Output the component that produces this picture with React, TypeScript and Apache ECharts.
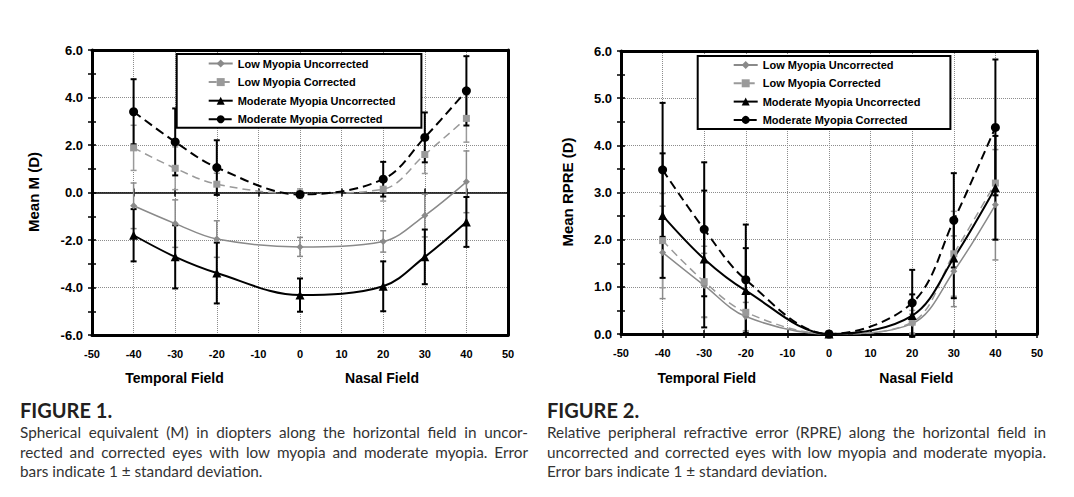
import React, { useEffect, useRef } from "react";
import * as echarts from "echarts";

// ---------- data ----------
const fieldAngles = [-40, -30, -20, 0, 20, 30, 40];
const seriesNames = [
  "Low Myopia Uncorrected",
  "Low Myopia Corrected",
  "Moderate Myopia Uncorrected",
  "Moderate Myopia Corrected",
];

// Figure 1: Mean M (D)
const fig1LowUncorrected = [-0.56, -1.31, -1.96, -2.29, -2.06, -0.97, 0.45];
const fig1LowCorrected = [1.88, 1.02, 0.35, -0.05, 0.14, 1.6, 3.12];
const fig1ModUncorrected = [-1.8, -2.71, -3.39, -4.32, -3.95, -2.71, -1.24];
const fig1ModCorrected = [3.4, 2.13, 1.05, -0.08, 0.56, 2.32, 4.28];
const fig1LowUncorrectedSD = [0.96, 1.0, 0.77, 0.4, 0.45, 0.9, 1.3];
const fig1LowCorrectedSD = [0.95, 0.9, 0.46, 0.2, 0.5, 0.8, 1.0];
const fig1ModUncorrectedSD = [1.1, 1.33, 1.28, 0.7, 1.05, 1.15, 1.05];
const fig1ModCorrectedSD = [1.37, 1.41, 1.15, 0.1, 0.73, 1.05, 1.46];

// Figure 2: Mean RPRE (D)
const fig2LowUncorrected = [1.73, 1.03, 0.37, 0, 0.22, 1.33, 2.74];
const fig2LowCorrected = [1.98, 1.11, 0.46, 0, 0.25, 1.7, 3.2];
const fig2ModUncorrected = [2.51, 1.59, 0.92, 0, 0.39, 1.61, 3.1];
const fig2ModCorrected = [3.48, 2.22, 1.15, 0, 0.66, 2.41, 4.38];
const fig2LowUncorrectedSD = [0.98, 0.68, 0.3, 0, 0.2, 0.75, 1.17];
const fig2LowCorrectedSD = [1.0, 0.75, 0.4, 0, 0.25, 0.9, 1.2];
const fig2ModUncorrectedSD = [1.32, 1.45, 0.9, 0, 0.45, 0.85, 1.1];
const fig2ModCorrectedSD = [1.42, 1.42, 1.17, 0, 0.7, 1.0, 1.44];

const fig1Caption = [
  "Spherical equivalent (M) in diopters along the horizontal field in uncor-",
  "rected and corrected eyes with low myopia and moderate myopia. Error",
  "bars indicate 1 \u00b1 standard deviation.",
];
const fig2Caption = [
  "Relative peripheral refractive error (RPRE) along the horizontal field in",
  "uncorrected and corrected eyes with low myopia and moderate myopia.",
  "Error bars indicate 1 \u00b1 standard deviation.",
];

// ---------- styles ----------
const AX_FONT = '"Liberation Sans", Arial, sans-serif';
const CAP_FONT = 'Lato, "Open Sans", sans-serif';
const styles = [
  { color: "#8a8a8a", symbol: "diamond", size: 7, width: 1.5, type: "solid" as any, barW: 1.5 },
  { color: "#9a9a9a", symbol: "rect", size: 7, width: 1.5, type: [8, 5] as any, barW: 1.5 },
  { color: "#000000", symbol: "triangle", size: 9, width: 2, type: "solid" as any, barW: 2 },
  { color: "#000000", symbol: "circle", size: 9, width: 2, type: [9, 5] as any, barW: 2 },
];

function buildSeries(values: number[][], sds: number[][], xIdx: number, yIdx: number) {
  const out: any[] = [];
  values.forEach((vals, i) => {
    const st = styles[i];
    out.push({
      type: "custom",
      name: "err" + xIdx + "_" + i,
      xAxisIndex: xIdx,
      yAxisIndex: yIdx,
      z: 2,
      silent: true,
      encode: { x: 0, y: 1 },
      data: fieldAngles.map((x, k) => [x, vals[k], sds[i][k]]),
      renderItem: (params: any, api: any) => {
        const x = api.value(0);
        const y = api.value(1);
        const sd = api.value(2);
        if (!sd || sd <= 0) return null;
        const top = api.coord([x, y + sd]);
        const bot = api.coord([x, y - sd]);
        const hw = 3;
        const s = { stroke: st.color, lineWidth: st.barW };
        return {
          type: "group",
          children: [
            { type: "line", shape: { x1: top[0], y1: top[1], x2: bot[0], y2: bot[1] }, style: s },
            { type: "line", shape: { x1: top[0] - hw, y1: top[1], x2: top[0] + hw, y2: top[1] }, style: s },
            { type: "line", shape: { x1: bot[0] - hw, y1: bot[1], x2: bot[0] + hw, y2: bot[1] }, style: s },
          ],
        };
      },
    });
  });
  values.forEach((vals, i) => {
    const st = styles[i];
    out.push({
      type: "line",
      name: seriesNames[i],
      xAxisIndex: xIdx,
      yAxisIndex: yIdx,
      z: 3,
      smooth: 0.35,
      symbol: st.symbol,
      symbolSize: st.size,
      showAllSymbol: true,
      data: fieldAngles.map((x, k) => [x, vals[k]]),
      itemStyle: { color: st.color, borderWidth: 0 },
      lineStyle: { color: st.color, width: st.width, type: st.type },
      emphasis: { disabled: true },
    });
  });
  return out;
}

let measureCtx: CanvasRenderingContext2D | null = null;
function measure(text: string, font: string) {
  if (!measureCtx) measureCtx = document.createElement("canvas").getContext("2d");
  measureCtx!.font = font;
  return measureCtx!.measureText(text).width;
}

function captionLine(text: string, x0: number, x1: number, y: number, justify: boolean) {
  const size = 15.3;
  const font = `${size}px ${CAP_FONT}`;
  const words = text.split(" ");
  const widths = words.map((w) => measure(w, font));
  const total = widths.reduce((a, b) => a + b, 0);
  const gap = justify && words.length > 1 ? (x1 - x0 - total) / (words.length - 1) : measure(" ", font);
  const els: any[] = [];
  let x = x0;
  words.forEach((w, i) => {
    els.push({
      type: "text",
      x,
      y,
      silent: true,
      style: { text: w, font, fill: "#333333", verticalAlign: "middle", align: "left" },
    });
    x += widths[i] + gap;
  });
  return els;
}

const BLACK_TICK = { color: "#000", width: 1.5 };
const DOTTED = { type: "dotted", color: "#8c8c8c", width: 1 };

function xAxisSet(gridIndex: number, zeroLine: boolean) {
  const base = { type: "value", gridIndex, min: -50, max: 50, interval: 10 };
  return [
    {
      ...base,
      position: "bottom",
      axisLine: { show: true, onZero: false, lineStyle: { color: "#000", width: 3 } },
      axisTick: { show: false },
      axisLabel: { show: true, margin: 13, color: "#000", fontWeight: "bold", fontSize: 11, fontFamily: AX_FONT },
      splitLine: { show: true, lineStyle: DOTTED },
    },
    {
      ...base,
      position: "top",
      axisLine: { show: true, onZero: false, lineStyle: { color: "#000", width: 3 } },
      axisTick: { show: false },
      axisLabel: { show: false },
      splitLine: { show: false },
    },
    {
      ...base,
      position: "bottom",
      axisLine: { show: zeroLine, onZero: zeroLine, lineStyle: { color: "#000", width: 1.5 } },
      axisTick: { show: true, inside: true, length: 4, lineStyle: BLACK_TICK },
      axisLabel: { show: false },
      splitLine: { show: false },
    },
    {
      ...base,
      position: "bottom",
      axisLine: { show: false, onZero: zeroLine },
      axisTick: { show: true, inside: false, length: 4, lineStyle: BLACK_TICK },
      axisLabel: { show: false },
      splitLine: { show: false },
    },
  ];
}

function yAxisSet(gridIndex: number, min: number, max: number, interval: number) {
  const base = { type: "value", gridIndex, min, max, interval };
  return [
    {
      ...base,
      position: "left",
      axisLine: { show: true, onZero: false, lineStyle: { color: "#000", width: 3 } },
      axisTick: { show: true, inside: false, length: 4, lineStyle: BLACK_TICK },
      minorTick: { show: true, splitNumber: 2, length: 4, lineStyle: BLACK_TICK },
      axisLabel: {
        show: true,
        margin: 9,
        color: "#000",
        fontWeight: "bold",
        fontSize: 13,
        fontFamily: AX_FONT,
        formatter: (v: number) => v.toFixed(1),
      },
      splitLine: { show: true, lineStyle: DOTTED },
    },
    {
      ...base,
      position: "left",
      axisLine: { show: false, onZero: false },
      axisTick: { show: true, inside: true, length: 4, lineStyle: BLACK_TICK },
      minorTick: { show: true, splitNumber: 2, length: 4, lineStyle: BLACK_TICK },
      axisLabel: { show: false },
      splitLine: { show: false },
    },
    {
      ...base,
      position: "right",
      axisLine: { show: true, onZero: false, lineStyle: { color: "#000", width: 3 } },
      axisTick: { show: false },
      axisLabel: { show: false },
      splitLine: { show: false },
    },
  ];
}

function legendOpt(left: number, top: number, padding: number[], itemGap: number) {
  return {
    orient: "vertical",
    left,
    top,
    padding,
    itemWidth: 24,
    itemHeight: 10,
    itemGap,
    borderColor: "#000",
    borderWidth: 2,
    backgroundColor: "#fff",
    selectedMode: false,
    textStyle: { fontFamily: AX_FONT, fontWeight: "bold", fontSize: 11, color: "#000" },
    data: seriesNames,
  };
}

export default function App() {
  const ref = useRef<HTMLDivElement>(null);
  useEffect(() => {
    if (!ref.current) return;
    const chart = echarts.init(ref.current, undefined, { renderer: "svg" });

    const gridCommon = {
      show: false,
      containLabel: false,
      outerBoundsMode: "none",
    };

    const graphics: any[] = [];
    const titleFont = `bold 14px ${AX_FONT}`;
    [
      ["Temporal Field", 174.5],
      ["Nasal Field", 382],
      ["Temporal Field", 706.7],
      ["Nasal Field", 916.3],
    ].forEach(([t, x]) => {
      graphics.push({
        type: "text",
        x: x as number,
        y: 378,
        silent: true,
        style: { text: t as string, font: titleFont, fill: "#000", align: "center", verticalAlign: "middle" },
      });
    });
    graphics.push({
      type: "text",
      x: 33,
      y: 192,
      rotation: Math.PI / 2,
      silent: true,
      style: { text: "Mean M (D)", font: `bold 15px ${AX_FONT}`, fill: "#000", align: "center", verticalAlign: "middle" },
    });
    graphics.push({
      type: "text",
      x: 567,
      y: 192,
      rotation: Math.PI / 2,
      silent: true,
      style: { text: "Mean RPRE (D)", font: `bold 15px ${AX_FONT}`, fill: "#000", align: "center", verticalAlign: "middle" },
    });
    graphics.push({
      type: "text",
      x: 20,
      y: 410,
      silent: true,
      style: { text: "FIGURE 1.", font: `bold 20px ${CAP_FONT}`, fill: "#231f20", verticalAlign: "middle" },
    });
    graphics.push({
      type: "text",
      x: 547,
      y: 410,
      silent: true,
      style: { text: "FIGURE 2.", font: `bold 20px ${CAP_FONT}`, fill: "#231f20", verticalAlign: "middle" },
    });
    const lineYs = [432, 451.5, 471];
    fig1Caption.forEach((t, i) => graphics.push(...captionLine(t, 20, 528, lineYs[i], i < 2)));
    fig2Caption.forEach((t, i) => graphics.push(...captionLine(t, 547, 1046, lineYs[i], i < 2)));

    const option: any = {
      animation: false,
      backgroundColor: "#fff",
      textStyle: { fontFamily: AX_FONT },
      grid: [
        { ...gridCommon, left: 92, top: 50, width: 416, height: 285 },
        { ...gridCommon, left: 621, top: 51, width: 416, height: 283 },
      ],
      xAxis: [...xAxisSet(0, true), ...xAxisSet(1, false)],
      yAxis: [...yAxisSet(0, -6, 6, 2), ...yAxisSet(1, 0, 6, 1)],
      legend: [
        legendOpt(176.7, 54, [4, 26, 3, 31], 7.6),
        legendOpt(697.7, 56, [3.5, 30, 3.5, 35], 7.3),
      ],
      graphic: graphics,
      series: [
        ...buildSeries(
          [fig1LowUncorrected, fig1LowCorrected, fig1ModUncorrected, fig1ModCorrected],
          [fig1LowUncorrectedSD, fig1LowCorrectedSD, fig1ModUncorrectedSD, fig1ModCorrectedSD],
          0,
          0
        ),
        ...buildSeries(
          [fig2LowUncorrected, fig2LowCorrected, fig2ModUncorrected, fig2ModCorrected],
          [fig2LowUncorrectedSD, fig2LowCorrectedSD, fig2ModUncorrectedSD, fig2ModCorrectedSD],
          4,
          3
        ),
      ],
    };
    chart.setOption(option);
    return () => chart.dispose();
  }, []);

  return (
    <div
      ref={ref}
      style={{ position: "absolute", left: 0, top: 0, width: 1074, height: 497, background: "#fff" }}
    />
  );
}
